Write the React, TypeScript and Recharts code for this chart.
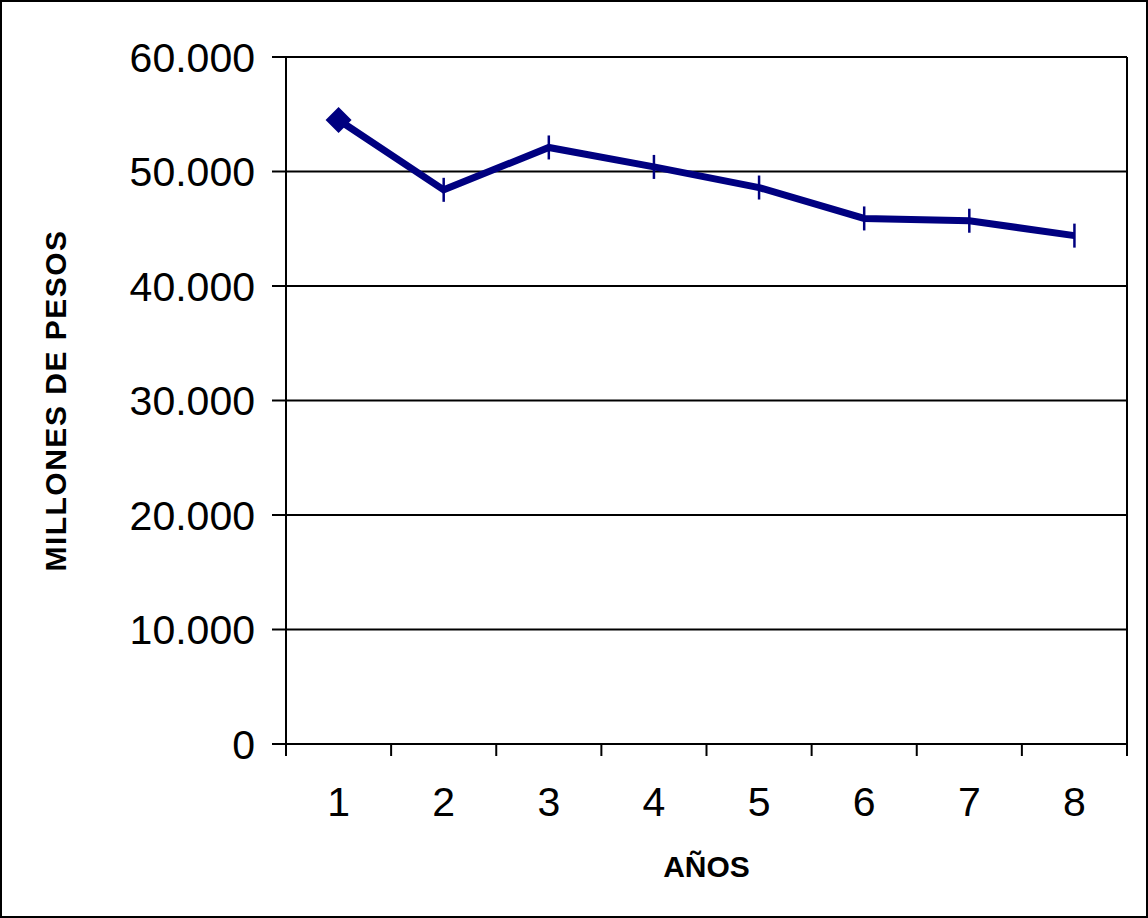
import { LineChart, Line, XAxis, YAxis, CartesianGrid, ReferenceLine, Label } from 'recharts'

// values (millones de pesos per año)
const years = [1, 2, 3, 4, 5, 6, 7, 8]
const valores = [54500, 48400, 52100, 50400, 48600, 45900, 45700, 44400]
const yTicks = [0, 10000, 20000, 30000, 40000, 50000, 60000]
// tick marks sit between the categories, labels at their centres
const xBoundaries = [0.5, 1.5, 2.5, 3.5, 4.5, 5.5, 6.5, 7.5, 8.5]

const NAVY = '#000080'
const FONT = '"Liberation Sans", Arial, sans-serif'

const data = years.map((year, i) => ({ year, valor: valores[i] }))

const fmt = (v: number) => (v === 0 ? '0' : v.toLocaleString('de-DE', { minimumFractionDigits: 0 }))

function Marker(props: any) {
  const { cx, cy, index } = props
  if (cx == null || cy == null) return null
  if (index === 0) {
    const r = 13
    return (
      <path
        key={`m${index}`}
        d={`M${cx} ${cy - r} L${cx + r} ${cy} L${cx} ${cy + r} L${cx - r} ${cy} Z`}
        fill={NAVY}
      />
    )
  }
  return <line key={`m${index}`} x1={cx} x2={cx} y1={cy - 12} y2={cy + 12} stroke={NAVY} strokeWidth={2.5} />
}

export default function App() {
  return (
    <div style={{ position: 'absolute', left: 0, top: 0, width: 1148, height: 918, background: '#fff' }}>
      <LineChart
        width={1148}
        height={918}
        data={data}
        margin={{ top: 57, right: 21, left: 0, bottom: 0 }}
        style={{ fontFamily: FONT }}
      >
        <CartesianGrid xAxisId={0} vertical={false} stroke="#000" strokeWidth={2} strokeOpacity={1} />
        <XAxis
          xAxisId={0}
          type="number"
          dataKey="year"
          domain={[0.5, 8.5]}
          ticks={xBoundaries}
          tickFormatter={() => ''}
          tickSize={12}
          height={14}
          axisLine={{ stroke: '#000', strokeWidth: 2 }}
          tickLine={{ stroke: '#000', strokeWidth: 2 }}
        />
        <XAxis
          xAxisId={1}
          type="number"
          dataKey="year"
          domain={[0.5, 8.5]}
          ticks={years}
          axisLine={false}
          tickLine={false}
          tickSize={0}
          tickMargin={29}
          height={160}
          tick={{ fill: '#000', fontSize: 41, fontFamily: FONT }}
        >
          <Label
            content={({ viewBox }: any) => (
              <text
                x={viewBox.x + viewBox.width / 2}
                y={viewBox.y + 119}
                textAnchor="middle"
                fontFamily={FONT}
                fontWeight="bold"
                fontSize={30}
                fill="#000"
              >
                AÑOS
              </text>
            )}
          />
        </XAxis>
        <YAxis
          type="number"
          domain={[0, 60000]}
          ticks={yTicks}
          tickFormatter={fmt}
          width={286}
          tickSize={14}
          tickMargin={17}
          axisLine={{ stroke: '#000', strokeWidth: 2 }}
          tickLine={{ stroke: '#000', strokeWidth: 2 }}
          tick={{ fill: '#000', fontSize: 41, fontFamily: FONT }}
        >
          <Label
            content={({ viewBox }: any) => {
              const cy = viewBox.y + viewBox.height / 2
              return (
                <text
                  x={55}
                  y={cy}
                  transform={`rotate(-90 55 ${cy})`}
                  textAnchor="middle"
                  dominantBaseline="central"
                  fontFamily={FONT}
                  fontWeight="bold"
                  fontSize={30}
                  letterSpacing={1.5}
                  fill="#000"
                >
                  MILLONES DE PESOS
                </text>
              )
            }}
          />
        </YAxis>
        <ReferenceLine xAxisId={0} x={8.5} stroke="#000" strokeWidth={2} />
        <Line
          xAxisId={0}
          type="linear"
          dataKey="valor"
          stroke={NAVY}
          strokeWidth={7}
          dot={Marker}
          activeDot={false}
          isAnimationActive={false}
        />
      </LineChart>
      <div
        style={{
          position: 'absolute',
          left: 0,
          top: 0,
          width: 1148,
          height: 918,
          boxSizing: 'border-box',
          border: '2px solid #000',
          pointerEvents: 'none',
        }}
      />
    </div>
  )
}
